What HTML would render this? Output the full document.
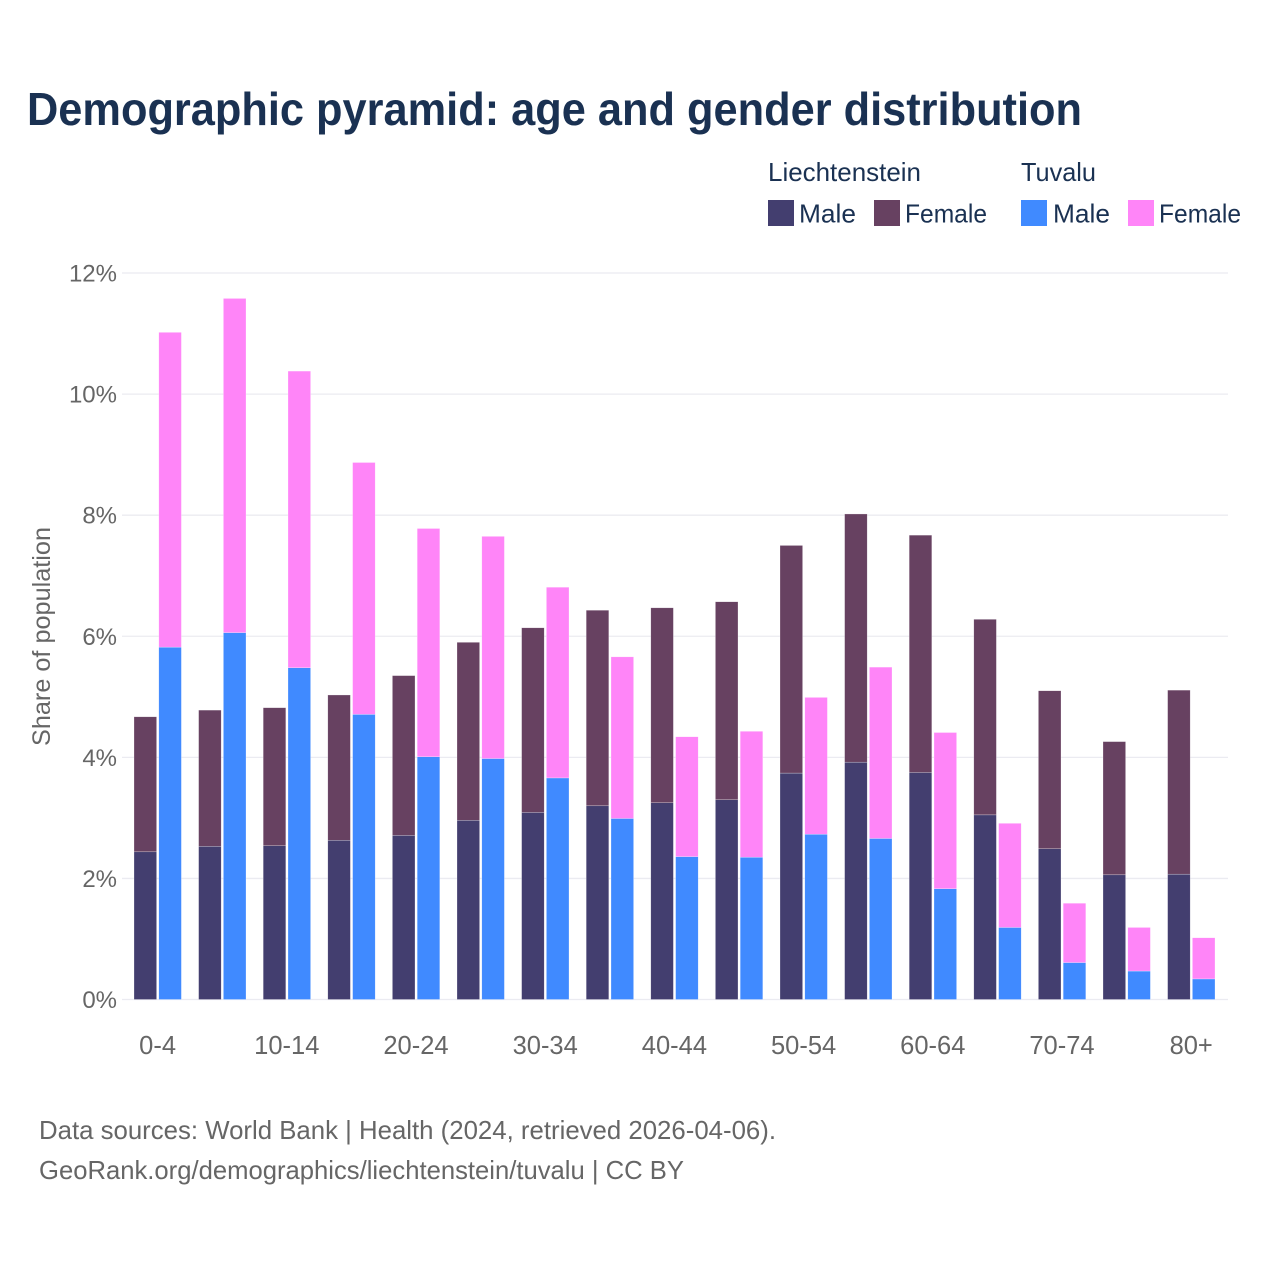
<!DOCTYPE html>
<html><head><meta charset="utf-8">
<style>
html,body{margin:0;padding:0;background:#fff}
svg{display:block}
text{font-family:"Liberation Sans",sans-serif}
</style></head>
<body>
<svg id="chart" xmlns="http://www.w3.org/2000/svg" width="1280" height="1280" viewBox="0 0 1280 1280">
<rect width="1280" height="1280" fill="#fff"/>
<text x="27" y="125" font-size="46" font-weight="700" fill="#1a3152" textLength="1055" lengthAdjust="spacingAndGlyphs">Demographic pyramid: age and gender distribution</text>
<g font-size="26" fill="#1a3152">
<text x="768" y="181" textLength="153" lengthAdjust="spacingAndGlyphs">Liechtenstein</text>
<text x="1021" y="181" textLength="75" lengthAdjust="spacingAndGlyphs">Tuvalu</text>
<rect x="768" y="200" width="26" height="26" fill="#433e6f"/>
<text x="799" y="222.5" textLength="57" lengthAdjust="spacingAndGlyphs">Male</text>
<rect x="874" y="200" width="26" height="26" fill="#674161"/>
<text x="905" y="222.5" textLength="82" lengthAdjust="spacingAndGlyphs">Female</text>
<rect x="1021" y="200" width="26" height="26" fill="#408aff"/>
<text x="1053" y="222.5" textLength="57" lengthAdjust="spacingAndGlyphs">Male</text>
<rect x="1128" y="200" width="26" height="26" fill="#ff85f8"/>
<text x="1159" y="222.5" textLength="82" lengthAdjust="spacingAndGlyphs">Female</text>
</g>
<g id="grid"></g>
<g id="bars"></g>
<g id="yticks"></g>
<g id="xticks"></g>
<text transform="translate(50,636.5) rotate(-90)" text-anchor="middle" font-size="25" fill="#666" textLength="219" lengthAdjust="spacingAndGlyphs">Share of population</text>
<text x="39" y="1139" font-size="26" fill="#666" textLength="737" lengthAdjust="spacingAndGlyphs">Data sources: World Bank | Health (2024, retrieved 2026-04-06).</text>
<text x="39" y="1179" font-size="26" fill="#666" textLength="645" lengthAdjust="spacingAndGlyphs">GeoRank.org/demographics/liechtenstein/tuvalu | CC BY</text>
</svg>
<script>
const ageGroups = ["0-4","5-9","10-14","15-19","20-24","25-29","30-34","35-39","40-44","45-49","50-54","55-59","60-64","65-69","70-74","75-79","80+"];
const liechtensteinMale = [2.44,2.53,2.54,2.63,2.71,2.96,3.09,3.20,3.25,3.30,3.74,3.92,3.75,3.05,2.49,2.06,2.07];
const liechtensteinFemale = [2.23,2.25,2.28,2.40,2.64,2.94,3.05,3.23,3.22,3.27,3.76,4.10,3.92,3.23,2.61,2.20,3.04];
const tuvaluMale = [5.82,6.06,5.48,4.71,4.01,3.98,3.66,2.99,2.36,2.35,2.73,2.66,1.83,1.19,0.61,0.47,0.34];
const tuvaluFemale = [5.20,5.52,4.90,4.16,3.77,3.67,3.15,2.67,1.98,2.08,2.26,2.83,2.58,1.72,0.98,0.72,0.68];
const yTicks = [0,2,4,6,8,10,12];

const NS = "http://www.w3.org/2000/svg";
const yScale = v => 999.5 - v * 60.54;
const bandX = i => 134 + i * 64.6;
const BAR_W = 22.6;
const SECOND_OFFSET = 24.8;

function make(tag, parent, attrs, text) {
  const el = document.createElementNS(NS, tag);
  for (const k in attrs) el.setAttribute(k, attrs[k]);
  if (text !== undefined) el.textContent = text;
  parent.appendChild(el);
  return el;
}

const grid = document.getElementById("grid");
const yG = document.getElementById("yticks");
yTicks.forEach(t => {
  const line = make("line", grid, {x1:122, x2:1228, y1:yScale(t), y2:yScale(t), stroke:"#ebebf1", "stroke-width":1.3});
  
  
  const lab = make("text", yG, {x:117, y:yScale(t)+8.5, "text-anchor":"end", "font-size":24, fill:"#666"}, t + "%");
  
  
});

const barsG = document.getElementById("bars");
function bar(parent, x, base, val, fill) {
  const top = yScale(base + val), bottom = yScale(base);
  return make("rect", parent, {x:x, y:top, width:BAR_W, height:bottom-top, fill:fill, stroke:"#fff", "stroke-opacity":0.5, "stroke-width":0.5});
}
const xG = document.getElementById("xticks");
ageGroups.forEach((g, i) => {
  const x = bandX(i);
  const a = bar(barsG, x, 0, liechtensteinMale[i], "#433e6f");
  
  
  const b = bar(barsG, x, liechtensteinMale[i], liechtensteinFemale[i], "#674161");
  
  
  const c = bar(barsG, x + SECOND_OFFSET, 0, tuvaluMale[i], "#408aff");
  
  
  const d = bar(barsG, x + SECOND_OFFSET, tuvaluMale[i], tuvaluFemale[i], "#ff85f8");
  
  
  if (i % 2 === 0) {
    const lab = make("text", xG, {x:x+23.6, y:1054, "text-anchor":"middle", "font-size":25.5, fill:"#666"}, g);
    
    
  }
});
</script>
</body></html>
